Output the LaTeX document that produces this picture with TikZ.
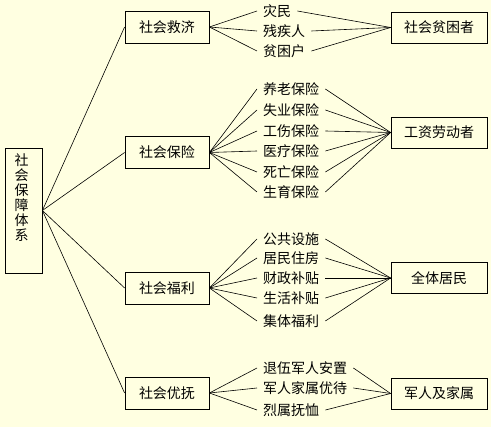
\documentclass[tikz,border=0pt]{standalone}
\usepackage{fontspec}
\newfontfamily\cjk{Noto Sans CJK SC}
\usetikzlibrary{positioning}
\definecolor{paper}{HTML}{FFFFE1}

\begin{document}
\begin{tikzpicture}[x=1pt, y=-1pt, font=\cjk\fontsize{14}{15}\selectfont,
    box/.style={draw, line width=0.8pt, minimum width=84pt, minimum height=32pt, inner sep=0pt},
    group/.style={box, minimum width=96pt, minimum height=31pt},
    item/.style={anchor=west, inner sep=6pt},
    every edge/.style={draw, line width=0.6pt}]
    \fill[paper] (0,0) rectangle (491,427);
    \useasboundingbox (0,0) rectangle (491,427);

    % root
    \node[box, minimum width=37pt, minimum height=125pt] (SSS) at (23.5,210.5) {};
    \node[align=center, anchor=north, inner sep=0pt] (SSSname) at ([xshift=-2pt,yshift=-6pt]SSS.north) {社\\会\\保\\障\\体\\系};

    % four branches
    \node[box] (SR) at (167,27) {社会救济};
    \node[box] (SI) at (167,152.5) {社会保险};
    \node[box] (SW) at (167,288) {社会福利};
    \node[box] (SC) at (167,393) {社会优抚};

    % who is covered
    \node[group] (PP) at (439,27.5) {社会贫困者};
    \node[group] (WE) at (439,132.5) {工资劳动者};
    \node[group] (AR) at (439,278) {全体居民};
    \node[group] (MF) at (439,393.5) {军人及家属};

    % items
    \node[item] (R1) at (257,11) {灾民};
    \node[item] (R2) at (257,31) {残疾人};
    \node[item] (R3) at (257,51) {贫困户};

    \node[item] (I1) at (257,89) {养老保险};
    \node[item] (I2) at (257,110) {失业保险};
    \node[item] (I3) at (257,131) {工伤保险};
    \node[item] (I4) at (257,151) {医疗保险};
    \node[item] (I5) at (257,172) {死亡保险};
    \node[item] (I6) at (257,192) {生育保险};

    \node[item] (W1) at (257,239) {公共设施};
    \node[item] (W2) at (257,258) {居民住房};
    \node[item] (W3) at (257,278) {财政补贴};
    \node[item] (W4) at (257,298) {生活补贴};
    \node[item] (W5) at (257,321) {集体福利};

    \node[item] (C1) at (257,368) {退伍军人安置};
    \node[item] (C2) at (257,388) {军人家属优待};
    \node[item] (C3) at (257,410) {烈属抚恤};

    \path
        (SSS.east) edge (SR.west) edge (SI.west) edge (SW.west) edge (SC.west)
        (SR.east) edge (R1.west) edge (R2.west) edge (R3.west)
        (PP.west) edge (R1.east) edge (R2.east) edge (R3.east)
        (SI.east) edge (I1.west) edge (I2.west) edge (I3.west) edge (I4.west) edge (I5.west) edge (I6.west)
        (WE.west) edge (I1.east) edge (I2.east) edge (I3.east) edge (I4.east) edge (I5.east) edge (I6.east)
        (SW.east) edge (W1.west) edge (W2.west) edge (W3.west) edge (W4.west) edge (W5.west)
        (AR.west) edge (W1.east) edge (W2.east) edge (W3.east) edge (W4.east) edge (W5.east)
        (SC.east) edge (C1.west) edge (C2.west) edge (C3.west)
        (MF.west) edge (C1.east) edge (C2.east) edge (C3.east);
\end{tikzpicture}
\end{document}
